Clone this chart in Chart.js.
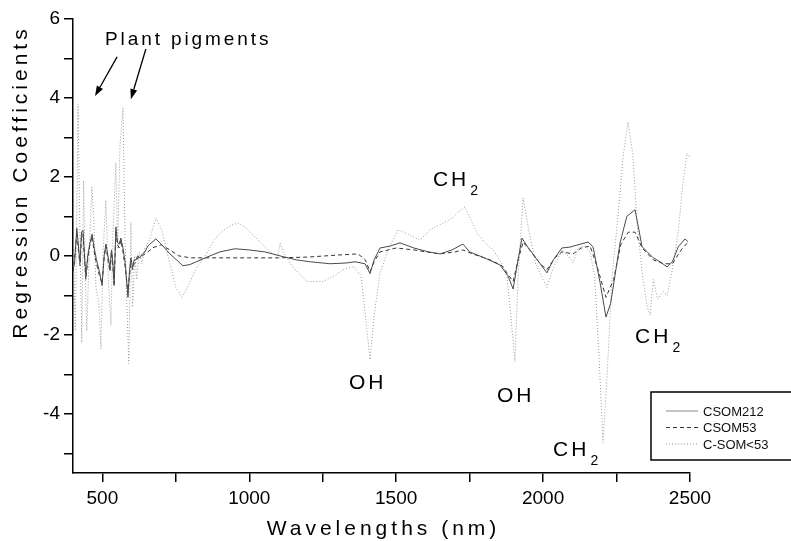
<!DOCTYPE html>
<html>
<head>
<meta charset="utf-8">
<script src="https://cdn.jsdelivr.net/npm/chart.js@4/dist/chart.umd.min.js"></script>
<style>
  html, body { margin: 0; padding: 0; background: #fff; }
  #wrap { width: 791px; height: 541px; }
</style>
</head>
<body>
<div id="wrap"><canvas id="regChart"></canvas></div>
<script>
// Wavelengths (nm) and regression coefficients
const wl212 = [400,405,413,419,424,429,434,440,444,450,457,465,472,480,490,499,506,512,519,526,531,536,540,546,551,557,563,570,578,587,592,597,603,608,614,620,628,636,645,655,662,682,700,730,774,798,850,900,951,1000,1053,1115,1160,1207,1275,1330,1360,1394,1411,1425,1445,1480,1513,1560,1610,1649,1690,1727,1750,1800,1853,1880,1898,1910,1928,1950,1990,2013,2035,2064,2090,2119,2153,2170,2194,2214,2230,2262,2285,2313,2337,2355,2375,2398,2422,2440,2460,2483,2493];
const csom212 = [-0.35,-0.2,0.7,0.2,-0.15,0.6,0.65,-0.1,-0.5,0.0,0.3,0.55,0.2,-0.1,-0.4,-0.75,0.0,0.3,0.0,-0.3,0.15,-0.2,-0.75,0.73,0.35,0.3,0.45,0.2,-0.2,-1.05,-0.4,-0.05,-0.3,-0.1,-0.1,0.0,-0.05,0.05,0.1,0.25,0.3,0.43,0.3,0.05,-0.25,-0.22,-0.05,0.1,0.18,0.15,0.1,-0.02,-0.1,-0.15,-0.2,-0.18,-0.15,-0.2,-0.45,-0.1,0.2,0.25,0.33,0.2,0.1,0.05,0.15,0.3,0.1,-0.05,-0.23,-0.5,-0.84,-0.3,0.45,0.2,-0.2,-0.43,-0.1,0.2,0.22,0.28,0.35,0.23,-0.68,-1.55,-1.2,0.33,1.0,1.17,0.23,0.1,-0.05,-0.15,-0.28,-0.15,0.23,0.43,0.36];

const wl53 = [400,405,413,419,424,429,434,440,444,450,457,465,472,480,490,499,506,512,519,526,531,536,540,546,551,557,563,570,578,587,592,597,603,608,614,620,628,636,645,655,670,700,730,760,800,900,1000,1100,1200,1300,1370,1395,1411,1425,1445,1500,1560,1649,1700,1727,1760,1820,1860,1898,1915,1932,1960,1990,2013,2040,2064,2102,2130,2160,2185,2214,2240,2265,2290,2313,2337,2375,2410,2440,2470,2493];
const csom53 = [-0.4,-0.1,0.6,0.1,-0.25,0.5,0.55,-0.2,-0.6,-0.1,0.25,0.5,0.1,-0.2,-0.5,-0.7,-0.05,0.25,-0.1,-0.4,0.1,-0.3,-0.7,0.65,0.3,0.2,0.4,0.1,-0.3,-0.95,-0.5,-0.2,-0.35,-0.2,-0.15,-0.05,-0.05,0.0,0.05,0.1,0.2,0.28,0.15,0.0,-0.05,-0.05,-0.05,-0.05,-0.03,0.02,0.05,-0.1,-0.4,-0.15,0.1,0.2,0.15,0.05,0.1,0.15,0.05,-0.1,-0.25,-0.65,-0.1,0.35,0.1,-0.2,-0.35,-0.05,0.1,0.05,0.2,0.25,-0.3,-1.05,-0.6,0.3,0.6,0.6,0.2,-0.1,-0.2,-0.2,0.15,0.35];

const wlLt53 = [400,408,417,424,430,436,442,447,456,464,470,478,488,495,503,512,520,529,536,546,552,560,570,577,583,590,597,603,610,617,625,635,645,660,682,700,730,750,771,790,820,850,880,910,940,962,990,1030,1070,1098,1105,1115,1150,1196,1251,1290,1319,1355,1380,1395,1411,1425,1445,1470,1489,1506,1540,1581,1615,1659,1690,1707,1734,1755,1775,1800,1830,1860,1877,1890,1904,1915,1932,1950,1975,2000,2013,2035,2064,2085,2102,2120,2140,2160,2175,2190,2204,2218,2235,2255,2272,2289,2305,2320,2340,2355,2364,2375,2390,2410,2422,2440,2460,2475,2490,2500];
const csomLt53 = [0.5,-1.9,3.85,0.3,-2.2,1.9,-0.5,-1.9,0.2,1.75,1.1,-0.8,-1.2,-2.35,0.2,1.4,-0.5,-1.75,0.6,2.35,0.2,2.8,3.75,0.5,-1.2,-2.73,0.85,-1.3,0.0,-0.6,0.1,-0.2,0.2,0.4,0.96,0.7,-0.2,-0.8,-1.05,-0.8,-0.3,0.0,0.4,0.65,0.78,0.83,0.7,0.4,0.1,0.0,0.33,0.1,-0.3,-0.65,-0.65,-0.5,-0.35,-0.27,-0.5,-1.5,-2.63,-1.5,-0.43,0.1,0.4,0.66,0.55,0.4,0.66,0.83,0.95,1.09,1.24,0.9,0.58,0.35,0.15,-0.2,-0.53,-1.5,-2.68,-0.5,1.47,0.7,-0.2,-0.6,-0.8,-0.3,0.15,0.0,-0.18,0.2,0.25,0.1,-0.5,-2.5,-4.73,-3.0,-0.5,1.0,2.5,3.39,2.6,0.8,-0.6,-1.3,-1.5,-0.6,-1.1,-0.9,-1.0,-0.35,0.6,1.8,2.6,2.5];

const seriesNames = ['CSOM212', 'CSOM53', 'C-SOM<53'];
const xTicks = [500, 750, 1000, 1250, 1500, 1750, 2000, 2250, 2500];
const xTickLabels = ['500', '', '1000', '', '1500', '', '2000', '', '2500'];
const yTicks = [-5, -4, -3, -2, -1, 0, 1, 2, 3, 4, 5, 6];
const yTickLabels = ['', '-4', '', '-2', '', '0', '', '2', '', '4', '', '6'];

// band labels: [text, subscript, wavelength, coefficient at baseline]
const bandLabels = [
    ['CH', '2', 1625, 1.77],
    ['OH', '', 1339, -3.37],
    ['OH', '', 1843, -3.70],
    ['CH', '2', 2034, -5.06],
    ['CH', '2', 2313, -2.20]
];

const toPoints = (xs, ys) => xs.map((x, i) => ({ x: x, y: ys[i] }));
const FONT = '"Liberation Sans", Arial, sans-serif';

const lineStyles = [
    { color: '#4a4a4a', dash: [], legendColor: '#8a8a8a' },
    { color: '#333333', dash: [4, 3], legendColor: '#333333' },
    { color: '#9a9a9a', dash: [1, 2], legendColor: '#9a9a9a' }
];

const spacedText = (ctx, text, x, y, spacing) => {
    ctx.letterSpacing = spacing + 'px';
    ctx.fillText(text, x, y);
    ctx.letterSpacing = '0px';
};

const drawArrow = (ctx, x1, y1, x2, y2) => {
    const ang = Math.atan2(y2 - y1, x2 - x1);
    const len = 10, half = 3.5;
    const bx = x2 - len * Math.cos(ang), by = y2 - len * Math.sin(ang);
    ctx.beginPath();
    ctx.moveTo(x1, y1);
    ctx.lineTo(bx, by);
    ctx.stroke();
    ctx.beginPath();
    ctx.moveTo(x2, y2);
    ctx.lineTo(bx + half * Math.sin(ang), by - half * Math.cos(ang));
    ctx.lineTo(bx - half * Math.sin(ang), by + half * Math.cos(ang));
    ctx.closePath();
    ctx.fill();
};

// titles, annotations and the boxed legend
const annotations = {
    id: 'annotations',
    afterDraw(chart) {
        const ctx = chart.ctx;
        const xs = chart.scales.x, ys = chart.scales.y;
        const area = chart.chartArea;
        ctx.save();
        ctx.fillStyle = '#000';
        ctx.strokeStyle = '#000';

        // axis titles
        ctx.font = '21px ' + FONT;
        ctx.textAlign = 'center';
        ctx.textBaseline = 'alphabetic';
        spacedText(ctx, 'Wavelengths (nm)', (area.left + area.right) / 2 + 2, 535, 4);
        ctx.save();
        ctx.translate(27, 182);
        ctx.rotate(-Math.PI / 2);
        spacedText(ctx, 'Regression Coefficients', 0, 0, 4);
        ctx.restore();

        // plant pigments
        ctx.textAlign = 'left';
        ctx.font = '19px ' + FONT;
        spacedText(ctx, 'Plant pigments', xs.getPixelForValue(509), ys.getPixelForValue(5.34), 2.9);
        ctx.lineWidth = 1.3;
        drawArrow(ctx, xs.getPixelForValue(550), ys.getPixelForValue(5.04), xs.getPixelForValue(475), ys.getPixelForValue(4.05));
        drawArrow(ctx, xs.getPixelForValue(648), ys.getPixelForValue(5.24), xs.getPixelForValue(597), ys.getPixelForValue(3.97));

        // band labels
        bandLabels.forEach(([txt, sub, wl, v]) => {
            const px = xs.getPixelForValue(wl), py = ys.getPixelForValue(v);
            ctx.font = '21px ' + FONT;
            ctx.letterSpacing = '3px';
            const w = ctx.measureText(txt).width;
            ctx.fillText(txt, px, py);
            ctx.letterSpacing = '0px';
            if (sub) {
                ctx.font = '14px ' + FONT;
                ctx.fillText(sub, px + w + 1, py + 9);
            }
        });

        // legend box
        const lx = 651, ly = 392, lw = 150, lh = 68;
        ctx.lineWidth = 1.5;
        ctx.strokeRect(lx, ly, lw, lh);
        ctx.font = '13px ' + FONT;
        ctx.textBaseline = 'middle';
        seriesNames.forEach((name, i) => {
            const rowY = 411 + i * 16.5;
            ctx.strokeStyle = lineStyles[i].legendColor;
            ctx.lineWidth = 1;
            ctx.setLineDash(lineStyles[i].dash);
            ctx.beginPath();
            ctx.moveTo(666, rowY);
            ctx.lineTo(698, rowY);
            ctx.stroke();
            ctx.setLineDash([]);
            ctx.fillStyle = '#111';
            ctx.fillText(name, 703, rowY + 1);
        });
        ctx.restore();
    }
};

const datasets = [
    toPoints(wl212, csom212),
    toPoints(wl53, csom53),
    toPoints(wlLt53, csomLt53)
].map((pts, i) => ({
    label: seriesNames[i],
    data: pts,
    borderColor: lineStyles[i].color,
    borderDash: lineStyles[i].dash,
    borderWidth: 1,
    pointRadius: 0,
    tension: 0,
    fill: false
}));

new Chart(document.getElementById('regChart'), {
    type: 'line',
    data: { datasets: datasets },
    options: {
        responsive: true,
        maintainAspectRatio: false,
        animation: false,
        events: [],
        layout: { padding: { left: 0, right: 101, top: 19, bottom: 0 } },
        scales: {
            x: {
                type: 'linear',
                min: 400,
                max: 2500,
                afterBuildTicks: (scale) => { scale.ticks = xTicks.map(v => ({ value: v })); },
                afterFit: (scale) => { scale.height = 68; },
                border: { display: true, color: '#000', width: 1.5 },
                grid: { drawOnChartArea: false, drawTicks: true, tickLength: 9, color: '#000', lineWidth: 1.5 },
                ticks: {
                    color: '#000',
                    padding: 5,
                    maxRotation: 0,
                    autoSkip: false,
                    font: { family: FONT, size: 19 },
                    callback: (v) => xTickLabels[xTicks.indexOf(v)]
                },
                title: { display: false }
            },
            y: {
                type: 'linear',
                min: -5.5,
                max: 6,
                afterBuildTicks: (scale) => { scale.ticks = yTicks.map(v => ({ value: v })); },
                afterFit: (scale) => { scale.width = 73; },
                border: { display: true, color: '#000', width: 1.5 },
                grid: { drawOnChartArea: false, drawTicks: true, tickLength: 9, color: '#000', lineWidth: 1.5 },
                ticks: {
                    color: '#000',
                    padding: 4,
                    autoSkip: false,
                    font: { family: FONT, size: 19 },
                    callback: (v) => yTickLabels[yTicks.indexOf(v)]
                },
                title: { display: false }
            }
        },
        plugins: {
            legend: { display: false },
            tooltip: { enabled: false }
        }
    },
    plugins: [annotations]
});
</script>
</body>
</html>
